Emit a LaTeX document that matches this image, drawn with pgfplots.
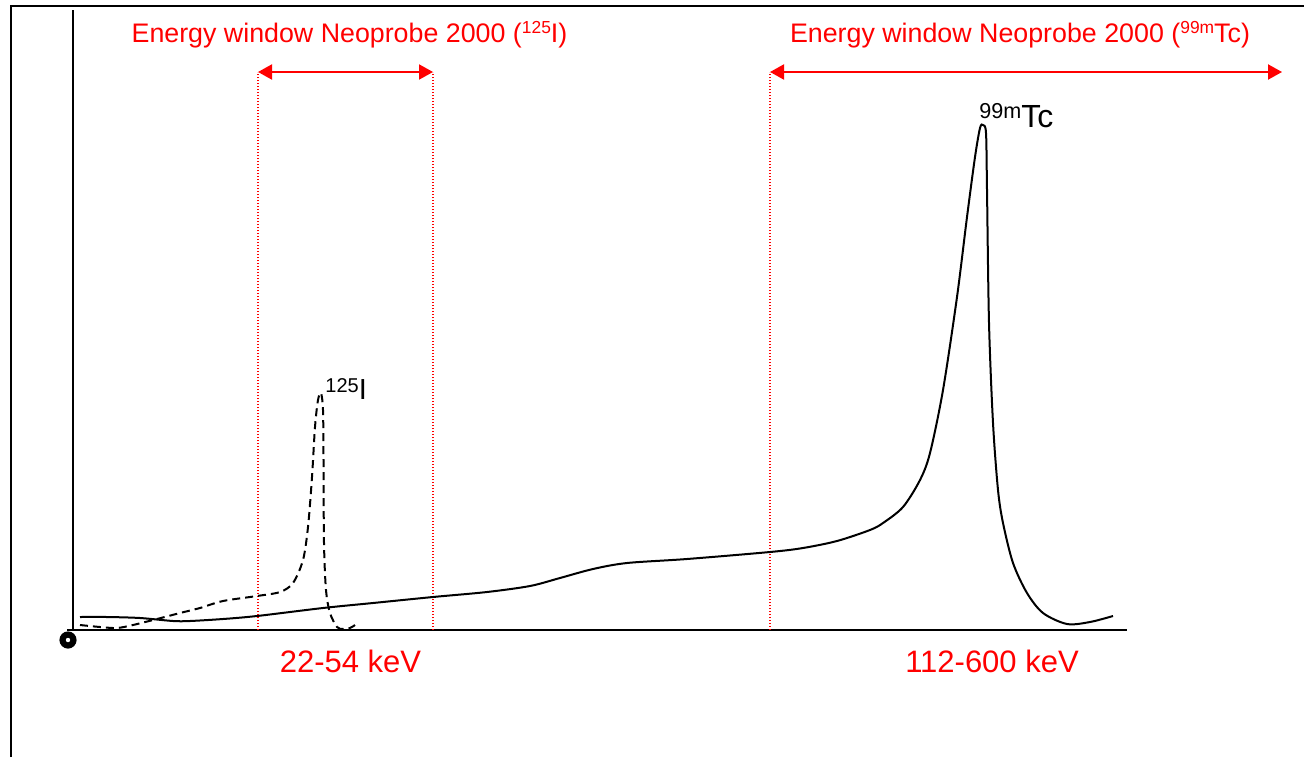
\documentclass[border=0pt]{standalone}
\usepackage{fontspec}
\setmainfont{Liberation Sans}
\usepackage{pgfplots}
\pgfplotsset{compat=1.18}
\usetikzlibrary{arrows.meta}
\begin{document}
\begin{tikzpicture}
\begin{axis}[
  scale only axis, width=652pt, height=378.5pt,
  xmin=-73, xmax=1231, ymin=-127, ymax=630,
  hide axis, clip=false,
]
\coordinate (bl) at (rel axis cs:0,0);
\coordinate (tr) at (rel axis cs:1,1);
% outer frame (left and top)
\draw[black, line width=1pt] (axis cs:-62,-127) -- (axis cs:-62,624) -- (axis cs:1231,624);
% axes
\draw[black, line width=1pt] (axis cs:0,0) -- (axis cs:0,620);
\draw[black, line width=1pt] (axis cs:-6,0) -- (axis cs:1054,0);
% origin marker
\fill[black] (axis cs:-5,-10) circle[radius=4.3pt];
\fill[white] (axis cs:-5,-10) circle[radius=1.1pt];
% energy windows
\foreach \xx in {185,360,697}{
  \edef\temp{\noexpand\draw[red, line width=0.6pt, dash pattern=on 0.6pt off 0.9pt] (axis cs:\xx,0) -- (axis cs:\xx,558);}
  \temp
}
\draw[red, line width=1pt, {Triangle[length=7pt,width=7.5pt]}-{Triangle[length=7pt,width=7.5pt]}] (axis cs:185,558) -- (axis cs:360,558);
\draw[red, line width=1pt, {Triangle[length=7pt,width=7.5pt]}-{Triangle[length=7pt,width=7.5pt]}] (axis cs:697,558) -- (axis cs:1209,558);
% Tc-99m spectrum
\addplot[black, line width=1pt, smooth, tension=0.5] coordinates {
(7,13) (34,13) (67,12) (100,9) (117,9) (150,11) (184,14) (250,22) (300,27)
(360,33) (414,38) (457,44) (487,52) (520,61) (554,67) (614,71) (697,78)
(730,82) (764,89) (797,100) (810,107) (830,123) (847,150) (857,177)
(870,240) (884,333) (894,413) (902,473) (907,502) (910,505) (913,497)
(914,440) (916,307) (920,207) (925,140) (930,107) (940,67) (954,37)
(970,17) (994,6) (1017,8) (1040,14)
};
% I-125 spectrum
\addplot[black, line width=1pt, dash pattern=on 4pt off 2.5pt, smooth, tension=0.5] coordinates {
(7,5) (27,3) (44,2) (60,5) (84,11) (107,17) (127,22) (150,29) (184,34)
(207,38) (220,47) (230,70) (235,103) (239,153) (242,203) (245,230)
(248,237) (250,220) (250.5,170) (251,87) (253,40) (257,17) (264,3)
(270,1) (277,2) (282,5)
};
% labels
\node[anchor=base west, inner sep=0] at (axis cs:252,231)
  {{\fontsize{10}{12}\selectfont\raisebox{3.5pt}{125}}{\fontsize{14.5}{17}\selectfont I}};
\node[anchor=base west, inner sep=0] at (axis cs:906,503)
  {{\fontsize{10.8}{12}\selectfont\raisebox{4.5pt}{99m}}{\fontsize{16}{19}\selectfont Tc}};
\node[anchor=base, inner sep=0, text=red] at (axis cs:276.5,587)
  {\fontsize{13.4}{16}\selectfont Energy window Neoprobe 2000 ({\fontsize{8.7}{10}\selectfont\raisebox{4.5pt}{125}}I)};
\node[anchor=base, inner sep=0, text=red] at (axis cs:947,587)
  {\fontsize{13.4}{16}\selectfont Energy window Neoprobe 2000 ({\fontsize{8.7}{10}\selectfont\raisebox{4.5pt}{99m}}Tc)};
\node[anchor=base, inner sep=0, text=red] at (axis cs:277.5,-42)
  {\fontsize{15.5}{18}\selectfont 22-54 keV};
\node[anchor=base, inner sep=0, text=red] at (axis cs:919,-42)
  {\fontsize{15.5}{18}\selectfont 112-600 keV};
\end{axis}
\pgfresetboundingbox
\path[use as bounding box] (bl) rectangle (tr);
\end{tikzpicture}
\end{document}
